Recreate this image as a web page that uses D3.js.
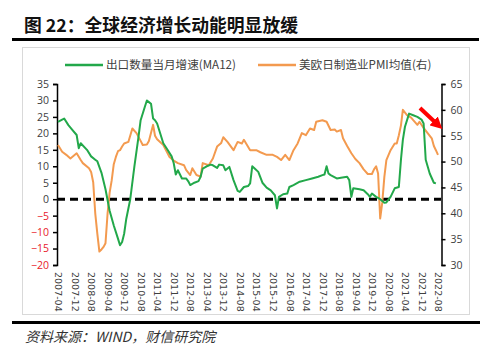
<!DOCTYPE html>
<html><head><meta charset="utf-8">
<script src="https://cdn.jsdelivr.net/npm/d3@7"></script>
<style>
body{margin:0;background:#fff;}
svg{display:block;}
</style></head>
<body>
<svg id="c" width="500" height="357"></svg>
<script>
const titleText = "图 22：全球经济增长动能明显放缓";
const sourceText = "资料来源：WIND，财信研究院";
const seriesNames = ["出口数量当月增速(MA12)", "美欧日制造业PMI均值(右)"];
const xTickLabels = ["2007-04","2007-12","2008-08","2009-04","2009-12","2010-08","2011-04","2011-12","2012-08","2013-04","2013-12","2014-08","2015-04","2015-12","2016-08","2017-04","2017-12","2018-08","2019-04","2019-12","2020-08","2021-04","2021-12","2022-08"];
const leftTicks = [35,30,25,20,15,10,5,0,-5,-10,-15,-20];
const rightTicks = [65,60,55,50,45,40,35,30];

const greenDates = ["2007-04","2007-06","2007-07","2007-09","2007-11","2008-01","2008-02","2008-03","2008-06","2008-08","2008-10","2008-11","2009-01","2009-03","2009-05","2009-07","2009-09","2009-10","2009-11","2009-12","2010-01","2010-03","2010-05","2010-07","2010-08","2010-10","2010-11","2010-12","2011-01","2011-02","2011-03","2011-04","2011-05","2011-07","2011-09","2011-11","2011-12","2012-01","2012-02","2012-04","2012-06","2012-07","2012-08","2012-10","2012-12","2013-01","2013-02","2013-04","2013-06","2013-07","2013-09","2013-10","2013-12","2014-01","2014-03","2014-05","2014-07","2014-08","2014-10","2014-12","2015-01","2015-02","2015-03","2015-05","2015-07","2015-09","2015-11","2016-01","2016-02","2016-03","2016-05","2016-07","2016-08","2016-10","2017-01","2017-04","2017-07","2017-10","2017-12","2018-01","2018-02","2018-03","2018-04","2018-07","2018-09","2018-12","2019-01","2019-02","2019-03","2019-06","2019-08","2019-10","2019-11","2019-12","2020-02","2020-04","2020-06","2020-07","2020-09","2020-11","2021-01","2021-02","2021-03","2021-04","2021-06","2021-08","2021-10","2021-12","2022-01","2022-02","2022-04","2022-06","2022-07"];
const greenValues = [23.5,24.2,24.5,22.5,21,19.5,15.5,17,15,13,12,11.5,8,3,-3.5,-8,-12,-14,-13,-10.5,-6,0,10,19,24,28,30,29.5,29,24.5,24,23,21,17,15,13,11,7.5,8.8,6.3,6.3,5.5,4.3,5,5.5,6.8,9.3,10,10.5,10.3,9.5,10.5,10.3,8.8,9.8,5.8,2.5,2.2,3.7,4,4.8,10,9.5,8.3,5,3.5,2.7,1.2,-2.8,0.7,1.5,1.7,3.7,4.3,5.3,5.8,6.3,6.8,7.3,7.5,10,7.8,7.3,6.3,6.5,6.8,5.8,0.7,3.3,3.0,2.7,1.5,0.7,1.7,0.7,0,-1.1,-1,0.7,3.3,3.7,12,18,22,26,25.5,25,24.2,23,12,7.8,5,4.8];

const orangeDates = ["2007-04","2007-06","2007-08","2007-10","2008-01","2008-03","2008-04","2008-07","2008-08","2008-09","2008-10","2008-11","2008-12","2009-01","2009-02","2009-03","2009-04","2009-05","2009-06","2009-07","2009-08","2009-09","2009-10","2009-11","2009-12","2010-02","2010-04","2010-06","2010-08","2010-09","2010-11","2010-12","2011-02","2011-03","2011-04","2011-07","2011-10","2011-12","2012-02","2012-05","2012-06","2012-08","2012-09","2012-11","2013-01","2013-02","2013-05","2013-07","2013-09","2013-11","2013-12","2014-02","2014-05","2014-07","2014-09","2014-10","2015-01","2015-04","2015-06","2015-09","2015-12","2016-02","2016-04","2016-06","2016-08","2016-10","2016-12","2017-02","2017-04","2017-06","2017-08","2017-09","2017-12","2018-02","2018-04","2018-06","2018-07","2018-09","2018-10","2018-12","2019-02","2019-04","2019-06","2019-08","2019-10","2019-12","2020-01","2020-02","2020-03","2020-04","2020-05","2020-06","2020-07","2020-09","2020-11","2020-12","2021-01","2021-02","2021-03","2021-05","2021-07","2021-08","2021-10","2021-11","2022-01","2022-03","2022-05","2022-06","2022-07","2022-08"];
const orangeValues = [53.2,51.9,51.3,50.6,51.6,50.3,49.7,48.7,48,46,40,36,32.6,33,33.5,34.2,40,44,46.4,49.5,50.9,52,52.2,52.9,53.5,53.8,56.4,55.5,54,53.2,53.3,54,57.1,55,54.3,53.2,50.9,50.2,49.7,49.3,48.4,47.4,48.7,47.4,47.1,49.7,49.3,50.6,52.9,53.6,54.7,53.8,52.2,53.8,53.5,54.2,52.2,52.2,51.8,51.3,51.3,50.9,50.3,51.3,50.3,52.2,53.5,55.5,55.1,56.4,56.1,57.7,58,57.7,56.1,56.2,55.8,56.1,54.5,53,51.6,50.5,49.7,48.5,47.6,47.6,48.5,49.1,47.7,39,42,47,50.3,52.2,53.5,53.5,55.1,57,60,59,58.5,58,57.1,57.7,56.5,55.5,54.5,53,52.2,51.3];

const GREEN = "#22a84a", ORANGE = "#f39a4f";
const parse = d3.timeParse("%Y-%m");
const svg = d3.select("#c");
const FONT = "'Noto Sans CJK SC','Noto Sans',sans-serif";

// Title
svg.append("text").attr("x", 24).attr("y", 32)
  .attr("font-family", FONT).attr("font-weight", 700).attr("font-size", 17.8)
  .attr("fill", "#111").text(titleText);
svg.append("line").attr("x1", 12).attr("x2", 479).attr("y1", 39.5).attr("y2", 39.5)
  .attr("stroke", "#000").attr("stroke-width", 3);

// Frame
svg.append("rect").attr("x", 22.5).attr("y", 47.5).attr("width", 447).attr("height", 267)
  .attr("fill", "none").attr("stroke", "#d9d9d9").attr("stroke-width", 1);

// Scales
const x = d3.scaleTime().domain([parse("2007-04"), parse("2022-08")]).range([58, 438]);
const yL = d3.scaleLinear().domain([-20, 35]).range([265, 84]);
const yR = d3.scaleLinear().domain([30, 65]).range([265, 84]);

// Left axis
const axL = svg.append("g").attr("transform", "translate(57,0)")
  .call(d3.axisLeft(yL).tickValues(leftTicks).tickSize(4).tickPadding(4));
axL.select(".domain").attr("stroke", "#000").attr("stroke-width", 1.5);
axL.selectAll(".tick line").attr("stroke", "#000").attr("stroke-width", 1.5);
axL.selectAll(".tick text").attr("font-family", "'Open Sans',sans-serif").attr("font-size", 10.5)
  .attr("fill", d => d < 0 ? "#e8202a" : "#404040");

// Right axis
const axR = svg.append("g").attr("transform", "translate(441.5,0)")
  .call(d3.axisRight(yR).tickValues(rightTicks).tickSize(4).tickPadding(5));
axR.select(".domain").attr("stroke", "#000").attr("stroke-width", 1.5);
axR.selectAll(".tick line").attr("stroke", "#000").attr("stroke-width", 1.5);
axR.selectAll(".tick text").attr("font-family", "'Open Sans',sans-serif").attr("font-size", 10.5)
  .attr("fill", "#404040");

// X labels (rotated)
const axX = svg.append("g").attr("transform", "translate(0,268)")
  .call(d3.axisBottom(x).tickValues(xTickLabels.map(parse)).tickSize(0)
    .tickFormat(d3.timeFormat("%Y-%m")));
axX.select(".domain").remove();
axX.selectAll(".tick text")
  .attr("font-family", "'DejaVu Sans',sans-serif").attr("font-size", 9.5).attr("fill", "#404040")
  .attr("transform", "rotate(90)").attr("text-anchor", "start")
  .attr("x", 4).attr("y", 0).attr("dy", "0.35em");

// Zero dashed line
svg.append("line").attr("x1", 57).attr("x2", 441).attr("y1", yL(0)).attr("y2", yL(0))
  .attr("stroke", "#000").attr("stroke-width", 3).attr("stroke-dasharray", "8,5");

// Lines
const gData = greenDates.map((d, i) => ({d: parse(d), v: greenValues[i]}));
const oData = orangeDates.map((d, i) => ({d: parse(d), v: orangeValues[i]}));
svg.append("path").datum(oData)
  .attr("d", d3.line().x(p => x(p.d)).y(p => yR(p.v)))
  .attr("fill", "none").attr("stroke", ORANGE).attr("stroke-width", 2).attr("stroke-linejoin", "round");
svg.append("path").datum(gData)
  .attr("d", d3.line().x(p => x(p.d)).y(p => yL(p.v)))
  .attr("fill", "none").attr("stroke", GREEN).attr("stroke-width", 2).attr("stroke-linejoin", "round");

// Legend
const leg = [{name: seriesNames[0], c: GREEN, x: 65}, {name: seriesNames[1], c: ORANGE, x: 258}];
leg.forEach(l => {
  svg.append("line").attr("x1", l.x).attr("x2", l.x + 38).attr("y1", 65).attr("y2", 65)
    .attr("stroke", l.c).attr("stroke-width", 2.5);
  svg.append("text").attr("x", l.x + 41).attr("y", 69)
    .attr("font-family", FONT).attr("font-size", 11.6).attr("fill", "#404040").text(l.name);
});

// Red arrow
const defs = svg.append("defs");
defs.append("marker").attr("id", "ah").attr("viewBox", "0 0 10 10").attr("refX", 5).attr("refY", 5)
  .attr("markerWidth", 3).attr("markerHeight", 3).attr("orient", "auto")
  .append("path").attr("d", "M0,0 L10,5 L0,10 z").attr("fill", "#ff0000");
svg.append("line").attr("x1", 420).attr("y1", 108).attr("x2", 438).attr("y2", 125)
  .attr("stroke", "#ff0000").attr("stroke-width", 4).attr("marker-end", "url(#ah)");

// Bottom line and source
svg.append("line").attr("x1", 12).attr("x2", 480).attr("y1", 322.5).attr("y2", 322.5)
  .attr("stroke", "#000").attr("stroke-width", 3);
svg.append("text").attr("x", 25).attr("y", 342)
  .attr("font-family", "'Noto Sans CJK SC','Liberation Serif',serif").attr("font-style", "italic")
  .attr("font-size", 14).attr("fill", "#333").text(sourceText);
</script>
</body></html>
